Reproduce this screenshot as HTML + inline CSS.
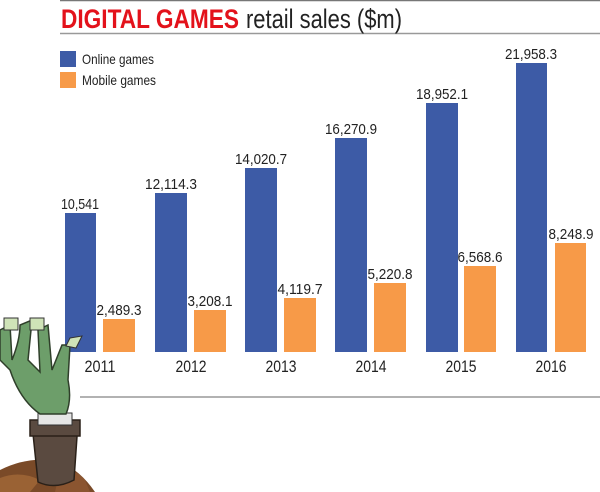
<!DOCTYPE html>
<html><head><meta charset="utf-8"><style>
html,body{margin:0;padding:0;background:#fff;width:600px;height:492px;overflow:hidden}
svg{display:block}
text{font-family:"Liberation Sans Narrow","Liberation Sans",sans-serif}
</style></head><body>
<svg width="600" height="492" viewBox="0 0 600 492" xmlns="http://www.w3.org/2000/svg">
<line x1="60" y1="0.5" x2="600" y2="0.5" stroke="#777" stroke-width="1.5"/>
<line x1="60" y1="33.5" x2="600" y2="33.5" stroke="#999" stroke-width="1.5"/>
<text x="61" y="28" font-size="27" font-weight="bold" fill="#e3121b" textLength="178" lengthAdjust="spacingAndGlyphs">DIGITAL GAMES</text>
<text x="246" y="28" font-size="27" fill="#222" textLength="156" lengthAdjust="spacingAndGlyphs">retail sales ($m)</text>
<rect x="60" y="51" width="16" height="16" fill="#3d5ba6"/>
<text x="82" y="64" font-size="14" fill="#222" textLength="72" lengthAdjust="spacingAndGlyphs">Online games</text>
<rect x="60" y="72" width="16" height="16" fill="#f79a48"/>
<text x="82" y="85" font-size="14" fill="#222" textLength="74" lengthAdjust="spacingAndGlyphs">Mobile games</text>
<g fill="#3d5ba6">
<rect x="65" y="213" width="31" height="139"/>
<rect x="155" y="193" width="32" height="159"/>
<rect x="245" y="168" width="32" height="184"/>
<rect x="335" y="138" width="32" height="214"/>
<rect x="426" y="103" width="32" height="249"/>
<rect x="516" y="63" width="31" height="289"/>
</g>
<g fill="#f79a48">
<rect x="103" y="319" width="32" height="33"/>
<rect x="194" y="310" width="32" height="42"/>
<rect x="284" y="298" width="32" height="54"/>
<rect x="374" y="283" width="32" height="69"/>
<rect x="464" y="266" width="32" height="86"/>
<rect x="555" y="243" width="31" height="109"/>
</g>
<g font-size="15" fill="#222" text-anchor="middle" lengthAdjust="spacingAndGlyphs">
<text x="80" y="209" textLength="38" lengthAdjust="spacingAndGlyphs">10,541</text>
<text x="171" y="189" textLength="52" lengthAdjust="spacingAndGlyphs">12,114.3</text>
<text x="261" y="164" textLength="52" lengthAdjust="spacingAndGlyphs">14,020.7</text>
<text x="351" y="134" textLength="52" lengthAdjust="spacingAndGlyphs">16,270.9</text>
<text x="442" y="99" textLength="52" lengthAdjust="spacingAndGlyphs">18,952.1</text>
<text x="531" y="59" textLength="52" lengthAdjust="spacingAndGlyphs">21,958.3</text>
<text x="119" y="315" textLength="45" lengthAdjust="spacingAndGlyphs">2,489.3</text>
<text x="210" y="306" textLength="45" lengthAdjust="spacingAndGlyphs">3,208.1</text>
<text x="300" y="294" textLength="45" lengthAdjust="spacingAndGlyphs">4,119.7</text>
<text x="390" y="279" textLength="45" lengthAdjust="spacingAndGlyphs">5,220.8</text>
<text x="480" y="262" textLength="45" lengthAdjust="spacingAndGlyphs">6,568.6</text>
<text x="571" y="239" textLength="45" lengthAdjust="spacingAndGlyphs">8,248.9</text>
</g>
<g font-size="17" fill="#222" text-anchor="middle">
<text x="100" y="372" textLength="31" lengthAdjust="spacingAndGlyphs">2011</text>
<text x="191" y="372" textLength="31" lengthAdjust="spacingAndGlyphs">2012</text>
<text x="281" y="372" textLength="31" lengthAdjust="spacingAndGlyphs">2013</text>
<text x="371" y="372" textLength="31" lengthAdjust="spacingAndGlyphs">2014</text>
<text x="461" y="372" textLength="31" lengthAdjust="spacingAndGlyphs">2015</text>
<text x="551" y="372" textLength="31" lengthAdjust="spacingAndGlyphs">2016</text>
</g>
<line x1="80" y1="397" x2="600" y2="397" stroke="#999" stroke-width="1.5"/>
<!-- zombie hand -->
<g>
<path d="M0 470 Q30 455 60 462 Q80 470 95 492 L0 492 Z" fill="#7a4a28"/>
<path d="M0 478 Q20 470 40 480 L30 492 L0 492 Z" fill="#9a6234"/>
<path d="M60 470 Q75 468 85 480 L90 492 L55 492 Z" fill="#8b5530"/>
<path d="M32 424 L78 422 L74 480 Q55 490 38 482 Z" fill="#5a4a40" stroke="#2a2018" stroke-width="1.5"/>
<rect x="30" y="420" width="50" height="16" fill="#5a4a40" stroke="#2a2018" stroke-width="1.5"/>
<rect x="38" y="413" width="34" height="12" fill="#e6e6e6" stroke="#333" stroke-width="1"/>
<path d="M40 414 Q20 400 10 370 L0 360 L0 330 L10 325 L12 360 Q20 340 20 325 L32 320 L28 360 L40 372 L38 330 L48 325 L52 370 L62 345 L70 345 L68 380 Q72 400 66 414 Z" fill="#6d9e6a" stroke="#2f3f2a" stroke-width="1.5"/>
<rect x="4" y="318" width="14" height="12" fill="#cfe3b8" stroke="#333"/>
<rect x="30" y="318" width="14" height="12" fill="#cfe3b8" stroke="#333"/>
<path d="M70 338 L82 336 L76 348 L66 346 Z" fill="#cfe3b8" stroke="#333"/>
</g>
</svg>
</body></html>
